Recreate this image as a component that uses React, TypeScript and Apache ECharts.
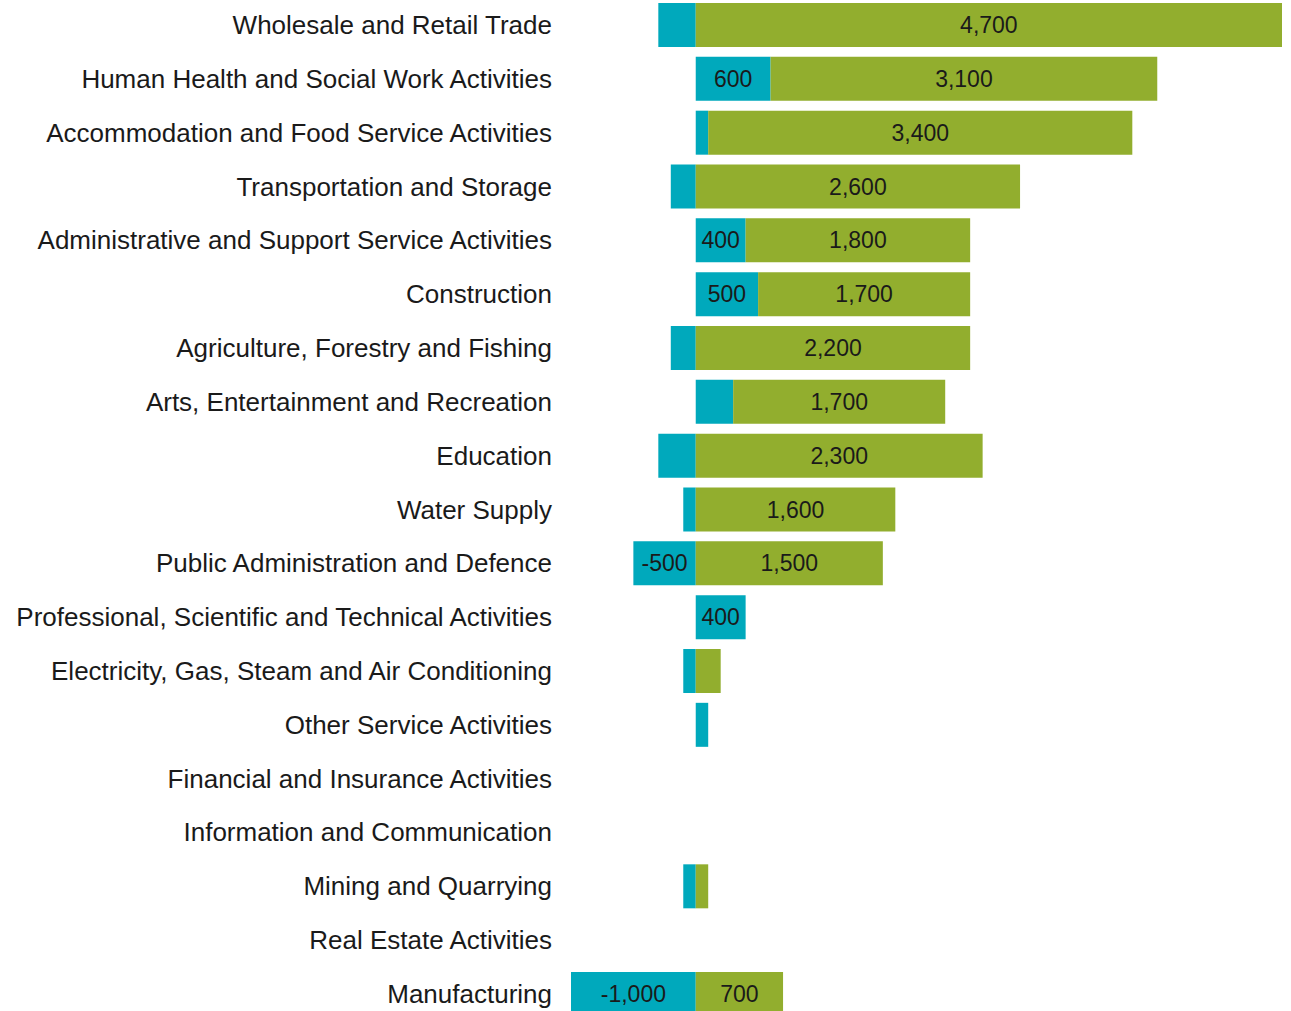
import React, { useEffect, useRef } from "react";
import * as echarts from "echarts";

const categories = [
  "Wholesale and Retail Trade",
  "Human Health and Social Work Activities",
  "Accommodation and Food Service Activities",
  "Transportation and Storage",
  "Administrative and Support Service Activities",
  "Construction",
  "Agriculture, Forestry and Fishing",
  "Arts, Entertainment and Recreation",
  "Education",
  "Water Supply",
  "Public Administration and Defence",
  "Professional, Scientific and Technical Activities",
  "Electricity, Gas, Steam and Air Conditioning",
  "Other Service Activities",
  "Financial and Insurance Activities",
  "Information and Communication",
  "Mining and Quarrying",
  "Real Estate Activities",
  "Manufacturing",
];

const tealValues = [-300, 600, 100, -200, 400, 500, -200, 300, -300, -100, -500, 400, -100, 100, 0, 0, -100, 0, -1000];
const greenValues = [4700, 3100, 3400, 2600, 1800, 1700, 2200, 1700, 2300, 1600, 1500, 0, 200, 0, 0, 0, 100, 0, 700];

const fmt = (v: number) => {
  const s = Math.abs(v).toLocaleString("en-US");
  return v < 0 ? "-" + s : s;
};

const labelCfg = {
  show: true,
  position: "inside",
  color: "#1a1a1a",
  fontSize: 23,
  fontFamily: "Liberation Sans, Arial, sans-serif",
  formatter: (p: any) => (Math.abs(p.value) >= 400 ? fmt(p.value) : ""),
};

export default function App() {
  const ref = useRef<HTMLDivElement>(null);
  useEffect(() => {
    const chart = echarts.init(ref.current!, undefined, { renderer: "svg" });
    chart.setOption({
      animation: false,
      grid: { left: 571, top: 18.1, width: 711, height: 1022.8, containLabel: false },
      xAxis: {
        type: "value",
        min: -1000,
        max: 4700,
        show: false,
      },
      yAxis: {
        type: "category",
        data: categories,
        inverse: true,
        axisLine: { show: false, onZero: false },
        axisTick: { show: false },
        axisLabel: {
          margin: 19,
          fontSize: 26,
          color: "#1a1a1a",
          fontFamily: "Liberation Sans, Arial, sans-serif",
        },
      },
      series: [
        {
          type: "bar",
          stack: "total",
          data: tealValues,
          barWidth: 44,
          itemStyle: { color: "#00A9BC" },
          label: labelCfg,
        },
        {
          type: "bar",
          stack: "total",
          data: greenValues,
          barWidth: 44,
          itemStyle: { color: "#92AE2E" },
          label: labelCfg,
        },
      ],
    });
    return () => chart.dispose();
  }, []);
  return (
    <div
      ref={ref}
      style={{ position: "fixed", left: 0, top: -20, width: 1291, height: 1060, background: "#fff" }}
    />
  );
}
